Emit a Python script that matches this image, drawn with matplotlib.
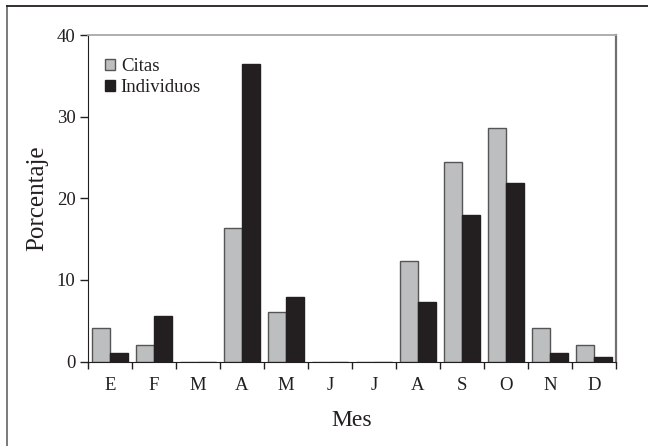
import matplotlib
matplotlib.use("Agg")
import matplotlib.pyplot as plt
from matplotlib.lines import Line2D
import numpy as np

months = ["E", "F", "M", "A", "M", "J", "J", "A", "S", "O", "N", "D"]
citas = [4.1, 2.0, 0, 16.3, 6.1, 0, 0, 12.3, 24.5, 28.6, 4.1, 2.0]
individuos = [1.1, 5.6, 0, 36.5, 7.9, 0, 0, 7.3, 18.0, 21.9, 1.1, 0.6]
yticks = [0, 10, 20, 30, 40]

plt.rcParams['font.family'] = ['Liberation Serif', 'DejaVu Serif']

fig = plt.figure(figsize=(6.48, 4.46), dpi=100)
ax = fig.add_axes([88/648, 1-361.5/446, (616-88)/648, (361.5-35)/446])

x = np.arange(len(months))
w = 0.41
dark = "#231f20"
ax.bar(x - w/2, citas, w, color="#bcbec0", edgecolor="#555555", linewidth=1.0, label="Citas")
ax.bar(x + w/2, individuos, w, color=dark, edgecolor=dark, linewidth=1.0, label="Individuos")

ax.set_xlim(-0.5, len(months) - 0.5)
ax.set_ylim(0, 40)
ax.set_yticks(yticks)
ax.set_xticks(np.arange(len(months) + 1) - 0.5)
ax.set_xticklabels([])
ax.set_xticks(x, minor=True)
ax.set_xticklabels(months, minor=True)
ax.tick_params(axis='x', which='major', direction='out', length=5, width=1, color=dark)
ax.tick_params(axis='x', which='minor', length=0, pad=11, labelsize=13.5, labelcolor=dark)
ax.tick_params(axis='y', direction='out', length=6, width=1, color=dark, labelsize=13.5, labelcolor=dark, pad=3)

ax.spines['left'].set_color(dark)
ax.spines['bottom'].set_color(dark)
ax.spines['top'].set_color("#a8a8a8")
ax.spines['top'].set_linewidth(1.3)
ax.spines['right'].set_color("#707070")
ax.spines['right'].set_linewidth(1.6)

ax.set_xlabel("Mes", fontsize=17, color=dark, labelpad=12)
ax.set_ylabel("Porcentaje", fontsize=18, color=dark, labelpad=6)

leg = ax.legend(loc='upper left', bbox_to_anchor=(0.0, 0.98), frameon=False,
                fontsize=13.5, handlelength=0.55, handleheight=0.55, handletextpad=0.3,
                labelspacing=0.2, borderaxespad=0.5, labelcolor=dark)

# outer frame (left and top visible)
fig.add_artist(Line2D([6.5/648, 6.5/648], [0, 1-5.7/446], transform=fig.transFigure,
                      color="#707070", linewidth=1.3))
fig.add_artist(Line2D([6.5/648, 1], [1-5.7/446, 1-5.7/446], transform=fig.transFigure,
                      color=dark, linewidth=1.3))

fig.savefig("out.png", dpi=100)
